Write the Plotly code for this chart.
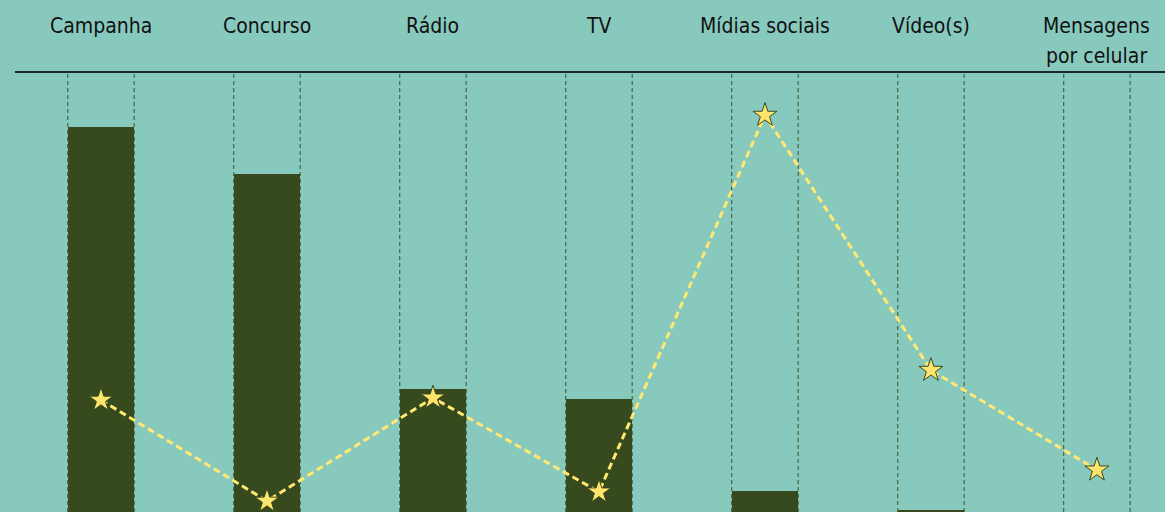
import plotly.graph_objects as go

categories = ["Campanha", "Concurso", "Rádio", "TV", "Mídias sociais", "Vídeo(s)", "Mensagens\npor celular"]
bar_values = [87.7, 77.0, 28.0, 25.7, 4.8, 0.5, 0.0]
line_values = [25.5, 2.5, 26.0, 4.6, 90.4, 32.3, 9.6]

BG = "#88C9BE"
BAR = "#374A1E"
YEL = "#FFE46B"
FONT = "DejaVu Sans Condensed, Roboto, sans-serif"
BAR_W = 0.4

xs = list(range(len(categories)))

fig = go.Figure()
fig.add_trace(go.Bar(x=xs, y=bar_values, width=BAR_W, marker=dict(color=BAR, line=dict(width=0)),
                     showlegend=False, hoverinfo="skip"))
fig.add_trace(go.Scatter(x=xs, y=line_values, mode="lines+markers",
                         line=dict(color="#FFE873", width=3, dash="7px,4px"),
                         marker=dict(symbol="star", size=18, color=YEL, line=dict(color=BAR, width=1)),
                         showlegend=False, hoverinfo="skip"))

shapes = []
for i in xs:
    for edge in (i - BAR_W / 2, i + BAR_W / 2):
        shapes.append(dict(type="line", xref="x", yref="paper", x0=edge, x1=edge, y0=0, y1=1,
                           line=dict(color="#3F5020", width=1, dash="4px,3px"), layer="below"))

annotations = []
for i, lab in enumerate(categories):
    for j, part in enumerate(lab.split("\n")):
        annotations.append(dict(x=i, xref="x", y=1, yref="paper", yanchor="middle", xanchor="center",
                                yshift=47 - 30 * j, text=part, showarrow=False,
                                font=dict(family=FONT, size=21, color="#111111")))

fig.update_layout(
    width=1165, height=512,
    margin=dict(l=15, r=0, t=73, b=0),
    paper_bgcolor=BG, plot_bgcolor=BG,
    shapes=shapes, annotations=annotations,
    bargap=0,
    xaxis=dict(range=[-0.518, 6.41], side="top", showticklabels=False, showgrid=False, zeroline=False,
               showline=True, linecolor="#1A2A28", linewidth=1.5, ticks=""),
    yaxis=dict(range=[0, 100], showticklabels=False, showgrid=False, zeroline=False, showline=False),
)

fig.write_html("out.html")
